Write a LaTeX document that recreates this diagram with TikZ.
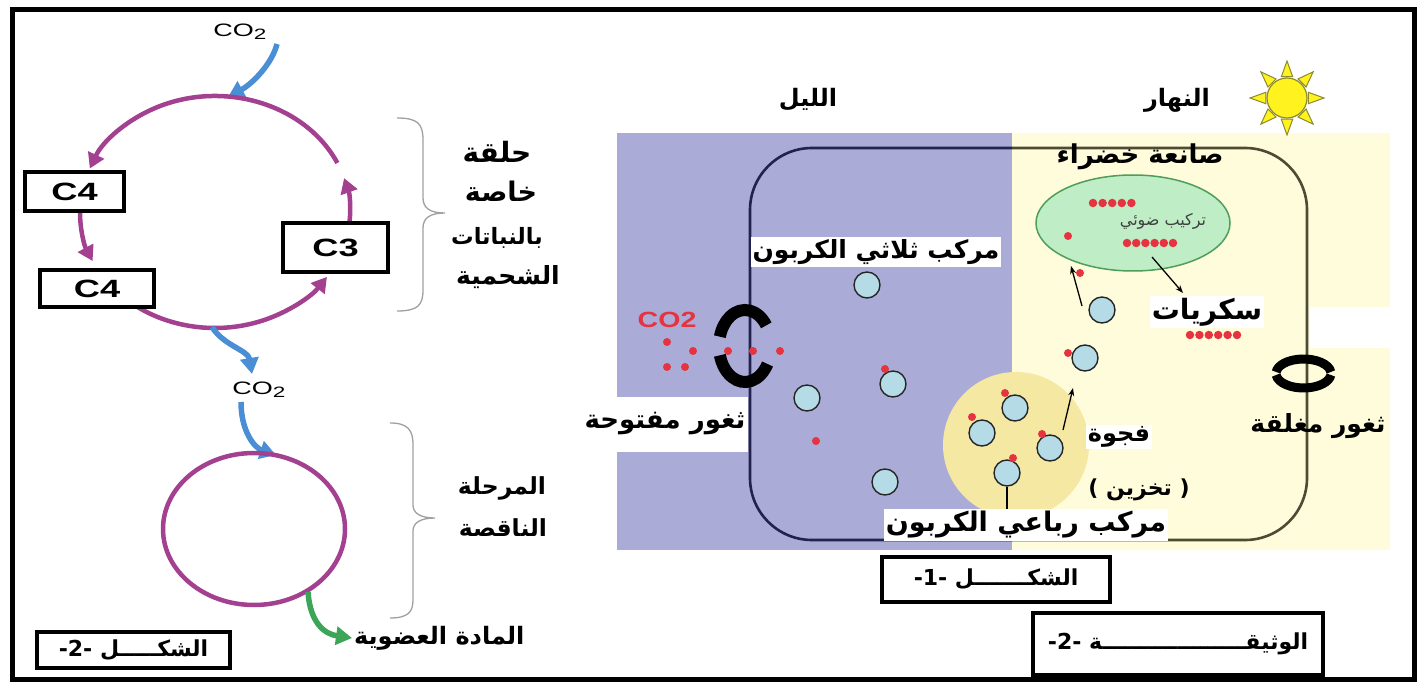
\documentclass[tikz,border=0pt]{standalone}
\usepackage{fontspec}
\usepackage{graphicx}
\setmainfont{Liberation Sans}
\newfontfamily\arb[Script=Arabic]{DejaVu Sans}
\TeXXeTstate=1
\usetikzlibrary{arrows.meta,calc,shapes.geometric}
\newcommand{\rtl}[1]{\beginR #1\endR}
\newcommand{\wideL}[2][1.45]{\scalebox{#1}[1]{#2}}
\newcommand{\cotwo}{CO\raisebox{-0.35ex}{\fontsize{15}{15}\selectfont 2}}
\definecolor{cyc}{HTML}{A3408F}
\definecolor{co2blue}{HTML}{4A8ED6}
\definecolor{outgreen}{HTML}{3DA557}
\definecolor{night}{HTML}{ABABD7}
\definecolor{day}{HTML}{FFFCDB}
\definecolor{vac}{HTML}{F5E8A3}
\definecolor{chl}{HTML}{BFEEC6}
\definecolor{chledge}{HTML}{4E9E5B}
\definecolor{molfill}{HTML}{B5DCE6}
\definecolor{dotred}{HTML}{E5343F}
\definecolor{braceg}{HTML}{A0A0A0}
\definecolor{sunyel}{HTML}{FFF21E}
\definecolor{sunedge}{HTML}{8C8A2E}
\definecolor{cellnight}{HTML}{22224E}
\definecolor{cellday}{HTML}{4C4C34}
\begin{document}
\begin{tikzpicture}[x=1pt,y=-1pt,
  fs/.style={font=\arb\bfseries\fontsize{#1}{#1}\selectfont},
  lbl/.style={fs=20, inner sep=2pt},
  lblw/.style={lbl, fill=white},
  tagbox/.style={draw, line width=3.5pt, fill=white, fs=22},
  cbox/.style={draw, line width=3.5pt, fill=white, font=\bfseries\fontsize{25}{25}\selectfont},
  mol/.style={circle, draw=black!85, fill=molfill, line width=1.4pt, minimum size=26pt, inner sep=0pt},
  rdot/.style={circle, fill=dotred, minimum size=8pt, inner sep=0pt},
  sdot/.style={circle, fill=dotred, minimum size=8.5pt, inner sep=0pt},
  cycarrow/.style={draw=cyc, line width=4.5pt, -{Triangle[length=15pt,width=17pt]}},
  bluearrow/.style={draw=co2blue, line width=5.5pt, -{Triangle[length=16pt,width=18pt]}},
  greenarrow/.style={draw=outgreen, line width=5.5pt, -{Triangle[length=16pt,width=18pt]}},
  thinarrow/.style={draw=black, line width=1.3pt, -{Stealth[length=8pt,width=6pt]}},
  bracestyle/.style={draw=braceg, line width=1.3pt},
  co2lbl/.style={font=\fontsize{18}{18}\selectfont, inner sep=1pt}
]
\useasboundingbox (0,0) rectangle (1424,684);

% ---------- left: C4 cycle ----------
\node[co2lbl] (co2top) at (240,32) {\wideL[1.5]{\cotwo}};
\coordinate (co2in) at (228,97);
\coordinate (co2src) at (277,44);
\draw[bluearrow] (co2src) .. controls (272,64) and (252,84) .. (co2in);

% cycle arcs on an ellipse centred at (215,212)
\coordinate (ta) at ({215+135*cos(25)},{212-116*sin(25)});
\draw[cycarrow] (ta) arc[start angle=-25, end angle=-158, x radius=135, y radius=116];
\coordinate (la) at ({215+135*cos(179)},{212-116*sin(179)});
\draw[cycarrow] (la) arc[start angle=-179, end angle=-205, x radius=135, y radius=116];
\coordinate (ba) at ({215+135*cos(233)},{212-116*sin(233)});
\draw[cycarrow] (ba) arc[start angle=-233, end angle=-326, x radius=135, y radius=116];
\coordinate (ra) at ({215+135*cos(-8)},{212-116*sin(-8)});
\draw[cycarrow] (ra) arc[start angle=8, end angle=-17, x radius=135, y radius=116];

\node[cbox, minimum width=99pt, minimum height=39pt] (c4a) at (74.5,191.5) {\wideL{C4}};
\node[cbox, minimum width=114pt, minimum height=37pt] (c4b) at (97,288.5) {\wideL{C4}};
\node[cbox, minimum width=105pt, minimum height=49pt] (c3) at (335.5,247.5) {\wideL{C3}};

% CO2 released to the Calvin cycle
\coordinate (cyclebot) at (212,327);
\node[co2lbl] (co2mid) at (259,390) {\wideL[1.5]{\cotwo}};
\coordinate (co2midin) at (252,374);
\draw[bluearrow] (cyclebot) .. controls (224,346) and (248,350) .. (co2midin);
\coordinate (co2midout) at (241,402);
\coordinate (calvintop) at (276,455);
\draw[bluearrow] (co2midout) .. controls (241,432) and (255,448) .. (calvintop);

% Calvin cycle
\draw[cyc, line width=4.5pt] (254,529) ellipse[x radius=91, y radius=76];
\coordinate (calvinout) at (308,592);
\node[lbl, fs=24, anchor=west] (organic) at (352,638) {\rtl{المادة العضوية}};
\draw[greenarrow] (calvinout) .. controls (310,622) and (324,634) .. (organic.west);

% braces and captions
\draw[bracestyle] (397,118) .. controls (418,118) and (423,124) .. (423,140) -- (423,198)
  .. controls (423,208) and (430,213) .. (445,213) .. controls (430,213) and (423,218) .. (423,228)
  -- (423,290) .. controls (423,305) and (418,311) .. (397,311);
\draw[bracestyle] (390,423) .. controls (408,423) and (413,430) .. (413,445) -- (413,505)
  .. controls (413,513) and (420,518) .. (435,518) .. controls (420,518) and (413,523) .. (413,531)
  -- (413,600) .. controls (413,612) and (408,618) .. (390,618);
\node[lbl, fs=28] (k1) at (497,152) {حلقة};
\node[lbl, fs=27] (k2) at (501,191) {خاصة};
\node[lbl, fs=22.5] (k3) at (497,238) {بالنباتات};
\node[lbl, fs=25] (k4) at (508,277) {الشحمية};
\node[lbl, fs=23.5] (n1) at (502,488) {المرحلة};
\node[lbl, fs=23.5] (n2) at (503,528) {الناقصة};

\node[tagbox, minimum width=193pt, minimum height=36pt] (fig2) at (133.5,650) {\rtl{الشكـــــل -2-}};

% ---------- right: CAM cell, night and day ----------
\fill[night] (617,133) rectangle (1012,550);
\fill[day] (1012,133) rectangle (1390,550);
\fill[white] (1310,307) rectangle (1392,348);
\fill[vac] (1016,445) circle (73);

\begin{scope}
  \clip (600,120) rectangle (1012,560);
  \draw[cellnight, line width=2.6pt, rounded corners=62pt] (750,148) rectangle (1307,540);
\end{scope}
\begin{scope}
  \clip (1012,120) rectangle (1330,560);
  \draw[cellday, line width=2.6pt, rounded corners=62pt] (750,148) rectangle (1307,540);
\end{scope}

% chloroplast
\node[ellipse, draw=chledge, fill=chl, line width=1.5pt, minimum width=194pt, minimum height=96pt, inner sep=0pt] (chloro) at (1133,223) {};
\node[font=\arb\fontsize{16}{18}\selectfont, text=black!75, inner sep=0pt] (photo) at (1163,221) {\rtl{تركيب ضوئي}};
\foreach \i in {0,...,4} \node[sdot] (cr\i) at ({1093+9.6*\i},203) {};
\foreach \i in {0,...,5} \node[sdot] (cs\i) at ({1127+9.2*\i},243) {};

% sun and headings
\coordinate (sun) at (1287,98);
\foreach \a in {0,45,...,315}
  \filldraw[fill=sunyel, draw=sunedge, line width=1pt] ($(sun)+(\a+15:22)$) -- ($(sun)+(\a:37)$) -- ($(sun)+(\a-15:22)$) -- cycle;
\filldraw[fill=sunyel, draw=sunedge, line width=1.2pt] (sun) circle (20);
\node[lbl, fs=24] (day) at (1177,100) {النهار};
\node[lbl, fs=24] (night) at (808,100) {الليل};
\node[lbl, fs=26] (chlname) at (1140,157) {\rtl{صانعة خضراء}};

% stomata
\draw[black, line width=12pt] ({745+26*cos(35)},{346-36*sin(35)}) arc[start angle=-35, end angle=-165, x radius=26, y radius=36];
\draw[black, line width=12pt] ({745+26*cos(195)},{346-36*sin(195)}) arc[start angle=-195, end angle=-330, x radius=26, y radius=36];
\draw[black, line width=9pt] ({1303.5+27.5*cos(6)},{373.5-14.5*sin(6)}) arc[start angle=-6, end angle=-174, x radius=27.5, y radius=14.5];
\draw[black, line width=9pt] ({1303.5+27.5*cos(186)},{373.5-14.5*sin(186)}) arc[start angle=-186, end angle=-354, x radius=27.5, y radius=14.5];

% CO2 entering through the open stoma
\node[font=\bfseries\fontsize{22}{22}\selectfont, text=dotred, inner sep=0pt] (co2red) at (667,320) {\wideL[1.3]{CO2}};
\foreach \p [count=\k] in {(667,342),(693,351),(667,367),(685,367),(728,351),(753,351),(780,351)}
  \node[rdot] (g\k) at \p {};

% molecules
\node[mol] (m1) at (867,285) {};
\node[mol] (m2) at (807,398) {};
\node[mol] (m3) at (893,384) {};
\node[mol] (m4) at (885,482) {};
\node[mol] (m5) at (1015,408) {};
\node[mol] (m6) at (982,433) {};
\node[mol] (m7) at (1050,448) {};
\node[mol] (m8) at (1007,473) {};
\node[mol] (m9) at (1085,358) {};
\node[mol] (m10) at (1102,310) {};
\foreach \p [count=\k] in {(885,369),(1005,393),(972,417),(1042,434),(1013,458),(1068,353),(816,441),(1080,273),(1068,236)}
  \node[rdot] (r\k) at \p {};

% arrows inside the cell
\coordinate (a1s) at (1082,306);
\coordinate (a1e) at (1071,266);
\draw[thinarrow] (a1s) -- (a1e);
\coordinate (a2s) at (1063,430);
\coordinate (a2e) at (1073,388);
\draw[thinarrow] (a2s) -- (a2e);
\coordinate (a3s) at (1152,257);
\coordinate (a3e) at (1183,293);
\draw[thinarrow] (a3s) -- (a3e);

% labels
\node[lblw, fs=25] (c3name) at (876,252) {\rtl{مركب ثلاثي الكربون}};
\node[lblw, fs=26, minimum height=55pt, minimum width=165pt] (open) at (665,424) {\rtl{ثغور مفتوحة}};
\node[lblw, fs=28, minimum width=112pt] (sugar) at (1207,312) {سكريات};
\foreach \i in {0,...,5} \node[sdot] (ss\i) at ({1190+9.4*\i},335) {};
\node[lblw, fs=24] (vacname) at (1119,437) {فجوة};
\node[lbl, fs=22] (store) at (1139,490) {\rtl{( تخزين )}};
\node[lblw, fs=27] (c4name) at (1026,525) {\rtl{مركب رباعي الكربون}};
\draw[black, line width=1.3pt] (m8.south) -- (c4name.north -| m8.south);
\node[lbl, fs=25] (closed) at (1318,426) {\rtl{ثغور مغلقة}};

\node[tagbox, minimum width=228pt, minimum height=45pt] (fig1) at (996,579.5) {\rtl{الشكـــــــل -1-}};
\node[tagbox, minimum width=290pt, minimum height=62pt] (doc2) at (1178,644) {\rtl{الوثيقـــــــــــــــــــة -2-}};

% outer frame
\draw[line width=5pt] (12,10) rectangle (1414,679);
\end{tikzpicture}
\end{document}
